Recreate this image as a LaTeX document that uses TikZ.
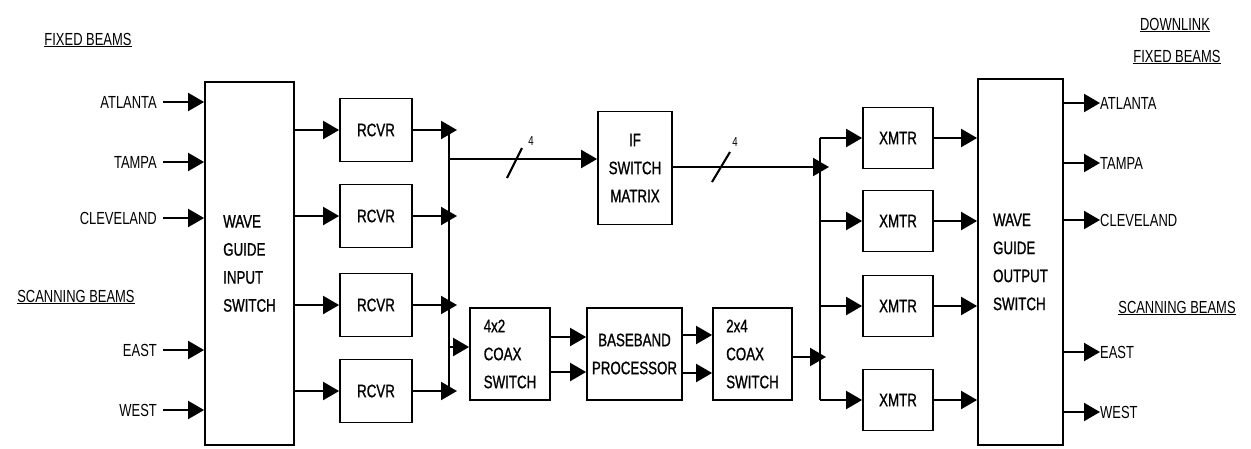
\documentclass[tikz,border=0pt]{standalone}
\usepackage{fontspec}
\setmainfont{Liberation Sans}[FakeStretch=0.74]
\newfontfamily\boxfam{Liberation Sans}[FakeStretch=0.74, FakeBold=1]
\usetikzlibrary{arrows.meta,calc}
\newcommand\bxf{\boxfam\fontsize{18}{28}\selectfont}
\newcommand\lbf{\fontsize{17.5}{20}\selectfont}
\newcommand\smf{\fontsize{13}{15}\selectfont}
\tikzset{
  box/.style={draw, line width=1.8pt, inner sep=0pt, align=center, font=\bxf},
  lbox/.style={box, align=left},
  arr/.style={-{Triangle[length=16pt,width=18pt]}, line width=2.1pt},
  ln/.style={line width=2.1pt},
  lbl/.style={inner sep=0pt, font=\lbf},
  num/.style={inner sep=0pt, font=\smf}
}
\begin{document}
\begin{tikzpicture}[x=1pt,y=-1pt]
\useasboundingbox (0,0) rectangle (1251,448);
% headings
\node[lbl] (hL1) at (88,40) {\underline{FIXED BEAMS}};
\node[lbl] (hL2) at (76,297) {\underline{SCANNING BEAMS}};
\node[lbl] (hR0) at (1175,25) {\underline{DOWNLINK}};
\node[lbl] (hR1) at (1177,57) {\underline{FIXED BEAMS}};
\node[lbl] (hR2) at (1177,308) {\underline{SCANNING BEAMS}};
% main boxes
\node[lbox, minimum width=89pt, minimum height=363pt] (win) at (249.5,263.5) {WAVE\\GUIDE\\INPUT\\SWITCH};
\node[lbox, minimum width=85pt, minimum height=366pt] (wout) at (1020.5,262) {WAVE\\GUIDE\\OUTPUT\\SWITCH};
\foreach \n/\y in {1/130,2/216,3/305,4/391}
  \node[box, minimum width=72pt, minimum height=63pt] (r\n) at (376,\y) {RCVR};
\foreach \n/\y in {1/138,2/221,3/306,4/400}
  \node[box, minimum width=70pt, minimum height=61pt] (x\n) at (898,\y) {XMTR};
\node[box, minimum width=74pt, minimum height=113pt] (IF) at (635,168) {IF\\SWITCH\\MATRIX};
\node[lbox, minimum width=80pt, minimum height=92pt] (c42) at (510,354) {4x2\\COAX\\SWITCH};
\node[box, minimum width=95pt, minimum height=92pt] (bb) at (634.5,354) {BASEBAND\\PROCESSOR};
\node[lbox, minimum width=79pt, minimum height=92pt] (c24) at (752.5,354) {2x4\\COAX\\SWITCH};
% left inputs
\foreach \n/\t/\y in {A/ATLANTA/102,T/TAMPA/162,C/CLEVELAND/218,E/EAST/350,W/WEST/410}{
  \node[lbl, anchor=east] (i\n) at (157,\y) {\t};
  \draw[arr] ([xshift=6pt]i\n.east) -- (i\n.east -| win.west);
}
% right outputs
\foreach \n/\t/\y in {A/ATLANTA/103,T/TAMPA/163,C/CLEVELAND/220,E/EAST/352,W/WEST/412}{
  \node[lbl, anchor=west] (o\n) at (1100,\y) {\t};
  \draw[arr] (o\n.west -| wout.east) -- (o\n.west);
}
% input switch to receivers
\foreach \n in {1,2,3,4}
  \draw[arr] (r\n.west -| win.east) -- (r\n.west);
% receiver bus
\coordinate (bLx) at (457,0);
\coordinate (bLtop) at (449,130);
\coordinate (bLbot) at (449,391);
\draw[ln] (bLtop) -- (bLbot);
\foreach \n in {1,2,3,4}
  \draw[arr] (r\n.east) -- (r\n.east -| bLx);
% to IF matrix
\coordinate (ifin) at (449,159);
\draw[arr] (ifin) -- (ifin -| IF.west);
\draw[ln] (507,178) -- (522,148);
\node[num] (n1) at (531,141) {4};
% to 4x2 coax
\coordinate (c42in) at (449,347);
\draw[arr] (c42in) -- (c42in -| c42.west);
\foreach \s in {17,-18}
  \draw[arr] ([yshift=\s pt]c42.east) -- ([yshift=\s pt]bb.west);
\foreach \s in {19,-19}
  \draw[arr] ([yshift=\s pt]bb.east) -- ([yshift=\s pt]c24.west);
% transmitter bus
\coordinate (bRtop) at (820,138);
\coordinate (bRbot) at (820,400);
\draw[ln] (bRtop) -- (bRbot);
\coordinate (ifout) at (829,167);
\draw[arr] (IF.east |- ifout) -- (ifout);
\draw[ln] (712,182) -- (730,152);
\node[num] (n2) at (735,142) {4};
\coordinate (c24out) at (826,357);
\draw[arr] (c24.east |- c24out) -- (c24out);
\foreach \n in {1,2,3,4}{
  \draw[arr] (x\n.west -| bRtop) -- (x\n.west);
  \draw[arr] (x\n.east) -- (x\n.east -| wout.west);
}
\end{tikzpicture}
\end{document}
